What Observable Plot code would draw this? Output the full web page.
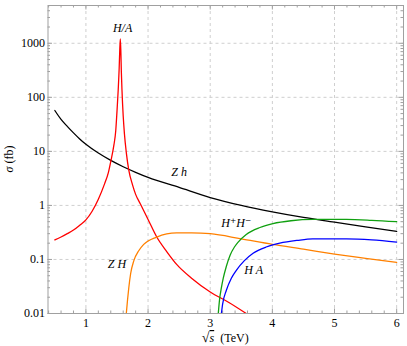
<!DOCTYPE html>
<html>
<head>
<meta charset="utf-8">
<script src="https://cdn.jsdelivr.net/npm/d3@7"></script>
<script src="https://cdn.jsdelivr.net/npm/@observablehq/plot@0.6"></script>
<style>
  html, body { margin: 0; padding: 0; background: white; }
  svg, svg text { font-family: "Liberation Serif", "DejaVu Serif", serif !important; }
</style>
</head>
<body>
<div id="chart"></div>
<script>
// ---- data ----
const zhX = [0.5, 0.6, 0.7, 0.8, 0.9, 1.0, 1.2, 1.4, 1.6, 1.8, 2.0, 2.5, 3.0, 3.5, 4.0, 4.5, 5.0, 5.5, 6.0];
const zhY = [57, 39, 29, 22, 17, 13.5, 9.3, 6.8, 5.2, 4.1, 3.3, 2.15, 1.4, 1.0, 0.76, 0.6, 0.49, 0.4, 0.33];

const haResX = [0.5, 0.6, 0.7, 0.8, 0.9, 1.0, 1.1, 1.2, 1.3, 1.36, 1.4, 1.45, 1.48, 1.5, 1.52, 1.535, 1.545, 1.554,
                1.563, 1.57, 1.58, 1.6, 1.62, 1.65, 1.69, 1.75, 1.8, 1.875, 2.0, 2.14, 2.3, 2.46, 2.7, 3.0, 3.3, 3.58];
const haResY = [0.23, 0.26, 0.30, 0.35, 0.43, 0.54, 0.78, 1.3, 2.5, 4.0, 6.5, 13, 24, 55, 140, 340, 770, 1200,
                650, 300, 140, 45, 21, 9.5, 4.5, 2.4, 1.6, 1.07, 0.55, 0.26, 0.14, 0.081, 0.045, 0.025, 0.016, 0.01];

const zHX = [1.65, 1.67, 1.69, 1.72, 1.77, 1.85, 1.93, 2.14, 2.46, 2.7, 3.0, 3.5, 4.0, 4.5, 5.0, 5.5, 6.0];
const zHY = [0.01, 0.018, 0.03, 0.055, 0.094, 0.145, 0.19, 0.26, 0.31, 0.31, 0.30, 0.24, 0.19, 0.155, 0.126, 0.105, 0.088];

const hpmX = [3.13, 3.15, 3.18, 3.21, 3.26, 3.32, 3.39, 3.45, 3.58, 3.8, 4.01, 4.3, 4.65, 5.19, 5.6, 6.0];
const hpmY = [0.01, 0.018, 0.03, 0.045, 0.075, 0.12, 0.17, 0.21, 0.29, 0.39, 0.46, 0.52, 0.55, 0.55, 0.53, 0.50];

const hAX = [3.18, 3.2, 3.26, 3.34, 3.42, 3.55, 3.69, 3.9, 4.12, 4.4, 4.65, 5.19, 5.6, 6.0];
const hAY = [0.01, 0.015, 0.027, 0.045, 0.063, 0.095, 0.13, 0.17, 0.20, 0.225, 0.24, 0.24, 0.23, 0.21];

const xTicks = [1, 2, 3, 4, 5, 6];
const xTickLabels = ["1", "2", "3", "4", "5", "6"];
const yTicks = [0.01, 0.1, 1, 10, 100, 1000];
const yTickLabels = ["0.01", "0.1", "1", "10", "100", "1000"];

const labelText = ["H/A", "Z h", "H\u207AH\u207B", "Z H", "H A"];
const labelX = [1.59, 2.5, 3.42, 1.5, 3.7];
const labelY = [1900, 4.1, 0.46, 0.081, 0.063];

// ---- build tables ----
const series = [
  {x: zhX, y: zhY, color: "#000000"},
  {x: haResX, y: haResY, color: "#ff0000"},
  {x: zHX, y: zHY, color: "#ff8000"},
  {x: hpmX, y: hpmY, color: "#10a010"},
  {x: hAX, y: hAY, color: "#0000ff"}
];
const labels = labelText.map((t, i) => ({t, x: labelX[i], y: labelY[i]}));

const xMinor = d3.range(4, 61, 2).map(v => v / 10).filter(v => !xTicks.includes(v) && v >= 0.4);
const yMinor = [];
for (const d of [0.01, 0.1, 1, 10, 100, 1000]) for (let k = 2; k <= 9; k++) if (d * k < 5000) yMinor.push(d * k);

const W = 407, H = 346;
const mL = 47.5, mR = 4, mT = 5, mB = 33;
const pw = W - mL - mR, ph = H - mT - mB;
const frameColor = "#a0a0a0";
const major = 4.5, minor = 2.5;
const serif = "Liberation Serif";

const marks = [
  Plot.gridX(xTicks, {stroke: "#cfcfcf", strokeOpacity: 1, strokeDasharray: "3,3"}),
  Plot.gridY(yTicks, {stroke: "#cfcfcf", strokeOpacity: 1, strokeDasharray: "3,3"}),
  // inward frame ticks
  Plot.tickX(xTicks, {x: d => d, stroke: frameColor, insetTop: ph - major}),
  Plot.tickX(xTicks, {x: d => d, stroke: frameColor, insetBottom: ph - major}),
  Plot.tickX(xMinor, {x: d => d, stroke: frameColor, insetTop: ph - minor}),
  Plot.tickX(xMinor, {x: d => d, stroke: frameColor, insetBottom: ph - minor}),
  Plot.tickY(yTicks, {y: d => d, stroke: frameColor, insetRight: pw - major}),
  Plot.tickY(yTicks, {y: d => d, stroke: frameColor, insetLeft: pw - major}),
  Plot.tickY(yMinor, {y: d => d, stroke: frameColor, insetRight: pw - minor}),
  Plot.tickY(yMinor, {y: d => d, stroke: frameColor, insetLeft: pw - minor}),
  Plot.frame({stroke: frameColor}),
  Plot.axisX(xTicks, {tickSize: 0, tickPadding: 5, label: null, fontSize: 12, fontFamily: serif,
    tickFormat: d => xTickLabels[xTicks.indexOf(d)]}),
  Plot.axisY(yTicks, {tickSize: 0, tickPadding: 3, label: null, fontSize: 12, fontFamily: serif,
    tickFormat: d => yTickLabels[yTicks.indexOf(d)]})
];
for (const s of series) {
  const data = s.x.map((x, i) => ({x, y: s.y[i]}));
  marks.push(Plot.line(data, {x: "x", y: "y", stroke: s.color, strokeWidth: 1.3, curve: "monotone-x", clip: true}));
}
marks.push(Plot.text(labels, {x: "x", y: "y", text: "t", fontStyle: "italic", fontSize: 12, fontFamily: serif, fill: "black"}));

const chart = Plot.plot({
  width: W, height: H,
  marginLeft: mL, marginRight: mR, marginTop: mT, marginBottom: mB,
  style: {fontSize: "12px", background: "white", color: "black"},
  x: {domain: [0.39, 6.11]},
  y: {type: "log", domain: [0.01, 5000]},
  marks
});

const svg = d3.select(chart);
// y-axis label: σ (fb)
const yl = svg.append("text")
  .attr("transform", `translate(13, ${mT + ph / 2}) rotate(-90)`)
  .attr("text-anchor", "middle")
  .attr("font-size", 12);
yl.append("tspan").attr("font-style", "italic").text("\u03C3");
yl.append("tspan").text(" (fb)");
// x-axis label: √s (TeV)
const xl = svg.append("text")
  .attr("x", mL + pw / 2)
  .attr("y", 342)
  .attr("text-anchor", "middle")
  .attr("font-size", 12);
xl.append("tspan").attr("font-size", 14).text("\u221A");
xl.append("tspan").attr("font-style", "italic").style("text-decoration", "overline").text("s");
xl.append("tspan").text("\u2002(TeV)");

document.getElementById("chart").appendChild(chart);
</script>
</body>
</html>
